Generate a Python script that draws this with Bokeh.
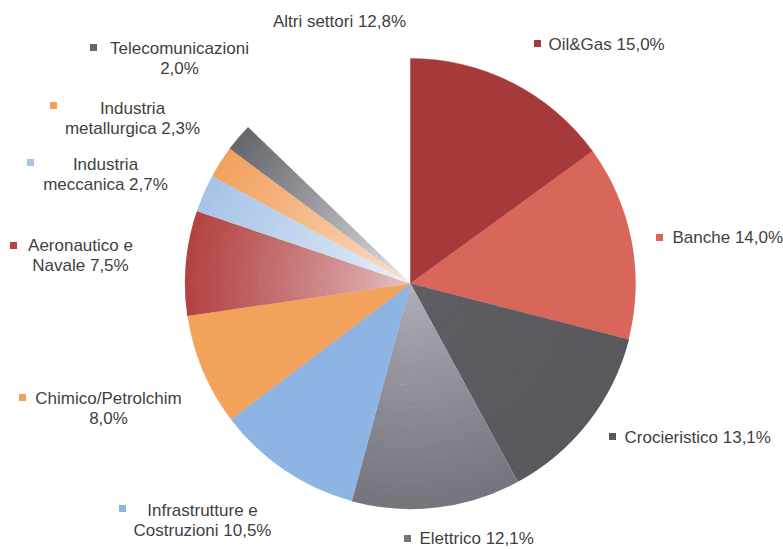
import math
from bokeh.plotting import figure
from bokeh.models import Range1d
from bokeh.core.properties import value
from bokeh.embed import file_html
from bokeh.resources import INLINE

# ---- data ----
sectors = ["Oil&Gas", "Banche", "Crocieristico", "Elettrico",
           "Infrastrutture e Costruzioni", "Chimico/Petrolchim",
           "Aeronautico e Navale", "Industria meccanica",
           "Industria metallurgica", "Telecomunicazioni", "Altri settori"]
shares = [15.0, 14.0, 13.1, 12.1, 10.5, 8.0, 7.5, 2.7, 2.3, 2.0, 12.8]
label_lines = [["Oil&Gas 15,0%"], ["Banche 14,0%"], ["Crocieristico 13,1%"],
               ["Elettrico 12,1%"], ["Infrastrutture e", "Costruzioni 10,5%"],
               ["Chimico/Petrolchim", "8,0%"], ["Aeronautico e", "Navale 7,5%"],
               ["Industria", "meccanica 2,7%"], ["Industria", "metallurgica 2,3%"],
               ["Telecomunicazioni", "2,0%"], ["Altri settori 12,8%"]]

# ---- styles ----
outer_cols = ["#A6393A", "#D8665A", "#58585D", "#74747D", "#8DB4E2", "#F3A25C",
              "#B34242", "#A6C4E8", "#F1A15E", "#66666E", None]
inner_cols = ["#A6393A", "#D8665A", "#5E5E63", "#B2B2BC", "#8DB4E2", "#F3A25C",
              "#E6C8CA", "#EEF3FA", "#FCE6D2", "#F0F0F2", None]
# label anchor (pixel coords in page): marker pos, text x, first-line y, align
label_pos = [
    (537, 43, 548, 44, "left"),
    (659, 237, 672, 237, "left"),
    (612, 436, 624, 437, "left"),
    (407, 538, 419, 538, "left"),
    (122, 508, 202, 510, "center"),
    (22, 397, 108, 398, "center"),
    (13, 245, 80, 245, "center"),
    (30, 162, 105, 164, "center"),
    (53, 105, 132, 108, "center"),
    (93, 47, 179, 48, "center"),
    (None, None, 339, 21, "center"),
]

W, H = 783, 549
OFF = 0


def px(x):
    return x - OFF


def py(y):
    return H - (y - OFF)


def mix(c1, c2, t):
    a = [int(c1[i:i + 2], 16) for i in (1, 3, 5)]
    b = [int(c2[i:i + 2], 16) for i in (1, 3, 5)]
    return "#%02x%02x%02x" % tuple(round(a[k] + (b[k] - a[k]) * t) for k in range(3))


p = figure(width=W, height=H, output_backend="svg", toolbar_location=None,
           x_range=Range1d(0, W), y_range=Range1d(0, H), min_border=0)
p.axis.visible = False
p.grid.visible = False
p.outline_line_color = None
p.background_fill_color = "white"

cx, cy, R = px(410), py(283), 225
total = sum(shares)
cum = 0.0
N = 40
for i, v in enumerate(shares):
    a0 = math.pi / 2 - 2 * math.pi * cum / total
    a1 = math.pi / 2 - 2 * math.pi * (cum + v) / total
    cum += v
    oc, ic = outer_cols[i], inner_cols[i]
    if oc is None:
        continue
    if oc == ic:
        p.wedge(x=cx, y=cy, radius=R, start_angle=a0, end_angle=a1,
                direction="clock", fill_color=oc, line_color=oc, line_width=0.5)
    else:
        for k in range(N):
            r_in = R * k / N
            r_out = R * (k + 1) / N
            t = (k + 0.5) / N
            col = mix(ic, oc, t ** 0.8)
            p.annular_wedge(x=cx, y=cy, inner_radius=r_in, outer_radius=r_out + 0.6,
                            start_angle=a0, end_angle=a1, direction="clock",
                            fill_color=col, line_color=None)

TEXT_COL = "#3f3f3f"
FS = "17px"
for i, lines in enumerate(label_lines):
    mx, my, tx, ty, align = label_pos[i]
    if mx is not None:
        mc = outer_cols[i]
        p.rect(x=px(mx), y=py(my), width=7, height=7, fill_color=mc, line_color=None)
    for j, line in enumerate(lines):
        p.text(x=px(tx), y=py(ty + 20 * j), text=[line], text_align=align,
               text_baseline="middle", text_font=value("Liberation Sans"),
               text_font_size=FS, text_color=TEXT_COL)

open("out.html", "w").write(file_html(p, INLINE))
